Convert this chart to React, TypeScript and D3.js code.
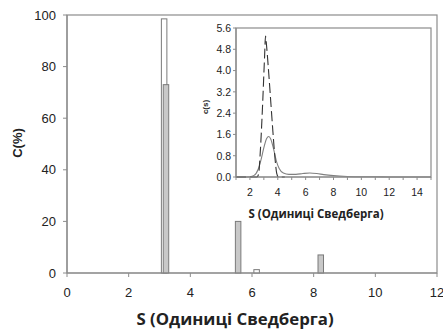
import React from 'react';
import * as d3 from 'd3';

// Main chart data
const mainXTicks = [0, 2, 4, 6, 8, 10, 12];
const mainYTicks = [0, 20, 40, 60, 80, 100];
const openS = [3.15, 6.15];
const openC = [98.5, 1.3];
const filledS = [3.21, 5.55, 8.23];
const filledC = [73, 20, 7];

// Inset data
const insetXTicks = [2, 4, 6, 8, 10, 12, 14];
const insetXMinor = [1, 2, 3, 4, 5, 6, 7, 8, 9, 10, 11, 12, 13, 14, 15];
const insetYTicks = [0, 0.8, 1.6, 2.4, 3.2, 4.0, 4.8, 5.6];
const dashS = [1, 2, 2.5, 2.62, 2.75, 2.9, 3.05, 3.12, 3.2, 3.35, 3.5, 3.65, 3.8, 3.92, 4.05, 4.5];
const dashC = [0, 0, 0, 0.1, 1.0, 2.6, 4.5, 5.3, 4.9, 3.9, 2.8, 1.7, 0.7, 0.15, 0, 0];
const solidS = [1, 1.5, 2, 2.3, 2.6, 2.8, 3.0, 3.2, 3.35, 3.5, 3.7, 3.9, 4.1, 4.4, 4.8, 5.3, 5.8, 6.3, 6.8, 7.3, 8, 9, 10, 11, 12, 13, 14, 15];
const solidC = [0, 0, 0.01, 0.06, 0.3, 0.65, 1.1, 1.45, 1.52, 1.42, 1.05, 0.6, 0.32, 0.15, 0.1, 0.1, 0.13, 0.15, 0.13, 0.09, 0.05, 0.02, 0.01, 0.01, 0, 0, 0, 0];

const AX = '#8c8c8c';
const TXT = '#222';

export default function App() {
  const x = d3.scaleLinear().domain([0, 12]).range([67, 437]);
  const y = d3.scaleLinear().domain([0, 100]).range([273, 15]);
  const bw = 5.5;

  const ix = d3.scaleLinear().domain([1, 15]).range([236, 431]);
  const iy = d3.scaleLinear().domain([0, 5.6]).range([177, 28]);
  const line = d3.line<[number, number]>().x(d => ix(d[0])).y(d => iy(d[1])).curve(d3.curveMonotoneX);
  const dashPath = line(dashS.map((s, i) => [s, dashC[i]] as [number, number])) || '';
  const solidPath = line(solidS.map((s, i) => [s, solidC[i]] as [number, number])) || '';

  const sans = 'Liberation Sans, Arial, sans-serif';
  const bold = 'Open Sans, sans-serif';

  return (
    <svg width={443} height={330} style={{ position: 'absolute', left: 0, top: 0 }}>
      <rect x={0} y={0} width={443} height={330} fill="#fff" />
      {/* main plot frame */}
      <rect x={x(0)} y={y(100)} width={x(12) - x(0)} height={y(0) - y(100)} fill="none" stroke={AX} strokeWidth={1.2} />
      {/* bars */}
      {openS.map((s, i) => (
        <rect key={'o' + i} x={x(s) - bw / 2} y={y(openC[i])} width={bw} height={y(0) - y(openC[i])} fill="#fff" stroke="#7a7a7a" strokeWidth={1} />
      ))}
      {filledS.map((s, i) => (
        <rect key={'f' + i} x={x(s) - bw / 2} y={y(filledC[i])} width={bw} height={y(0) - y(filledC[i])} fill="#c8c8c8" stroke="#7a7a7a" strokeWidth={1} />
      ))}
      {/* main axes */}
      <line x1={x(0)} x2={x(12)} y1={y(0)} y2={y(0)} stroke={AX} strokeWidth={1.2} />
      <line x1={x(0)} x2={x(0)} y1={y(0)} y2={y(100)} stroke={AX} strokeWidth={1.2} />
      {mainXTicks.map(t => (
        <g key={'mx' + t}>
          <line x1={x(t)} x2={x(t)} y1={y(0)} y2={y(0) + 4} stroke={AX} />
          <text x={x(t)} y={y(0) + 24} textAnchor="middle" fontFamily={sans} fontSize={13} fill={TXT}>{t}</text>
        </g>
      ))}
      {mainYTicks.map(t => (
        <g key={'my' + t}>
          <line x1={x(0) - 4} x2={x(0)} y1={y(t)} y2={y(t)} stroke={AX} />
          <text x={x(0) - 11} y={y(t) + 4.5} textAnchor="end" fontFamily={sans} fontSize={13} fill={TXT}>{t}</text>
        </g>
      ))}
      <text transform="translate(22,143) rotate(-90)" textAnchor="middle" fontFamily={sans} fontWeight="bold" fontSize={13} fill={TXT}>C(%)</text>
      <text x={235} y={325} textAnchor="middle" fontFamily={bold} fontWeight="bold" fontSize={16.8} fill={TXT}>S (Одиниці Сведберга)</text>

      {/* inset */}
      <rect x={ix(1)} y={iy(5.6)} width={ix(15) - ix(1)} height={iy(0) - iy(5.6)} fill="#fff" stroke={AX} strokeWidth={1.2} />
      <path d={solidPath} fill="none" stroke="#808080" strokeWidth={1.1} />
      <path d={dashPath} fill="none" stroke="#333" strokeWidth={1.1} strokeDasharray="10,4" />
      <line x1={ix(1)} x2={ix(15)} y1={iy(0)} y2={iy(0)} stroke={AX} strokeWidth={1.2} />
      <line x1={ix(1)} x2={ix(1)} y1={iy(0)} y2={iy(5.6)} stroke={AX} strokeWidth={1.2} />
      {insetXMinor.map(t => (
        <line key={'ixm' + t} x1={ix(t)} x2={ix(t)} y1={iy(0)} y2={iy(0) + 3} stroke={AX} />
      ))}
      {insetXTicks.map(t => (
        <text key={'ixt' + t} x={ix(t)} y={iy(0) + 19} textAnchor="middle" fontFamily={sans} fontSize={10.5} fill={TXT}>{t}</text>
      ))}
      {insetYTicks.map(t => (
        <g key={'iy' + t}>
          <line x1={ix(1) - 3} x2={ix(1)} y1={iy(t)} y2={iy(t)} stroke={AX} />
          <text x={ix(1) - 5} y={iy(t) + 3.8} textAnchor="end" fontFamily={sans} fontSize={10.5} fill={TXT}>{t.toFixed(1)}</text>
        </g>
      ))}
      <text transform="translate(208,107) rotate(-90)" textAnchor="middle" fontFamily={sans} fontWeight="bold" fontSize={8} fill={TXT}>c(s)</text>
      <text x={316} y={218} textAnchor="middle" fontFamily={bold} fontWeight="bold" fontSize={11.5} fill={TXT}>S (Одиниці Сведберга)</text>
    </svg>
  );
}
